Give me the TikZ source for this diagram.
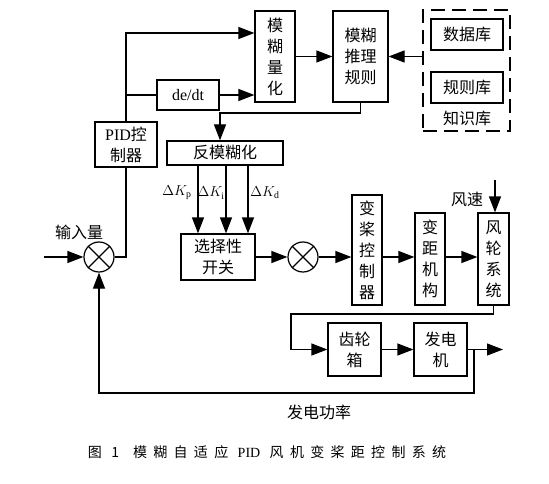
\documentclass[tikz,border=0pt]{standalone}
\usepackage{fontspec}
\setmainfont{Liberation Serif}
\newfontfamily\cjk{Noto Sans CJK SC}
\newfontfamily\capfont[LetterSpace=45]{Noto Sans CJK SC}
\usetikzlibrary{arrows.meta,positioning,calc}
\tikzset{
  >={Triangle[length=16pt,width=12pt]},
  blk/.style={draw,line width=1.2pt,inner sep=0pt,align=center},
  sum/.style={draw,circle,line width=1.2pt,minimum size=30pt,inner sep=0pt},
}

\begin{document}
\begin{tikzpicture}[
  x=1pt,y=-1pt,line width=1.2pt,
  every node/.style={font=\cjk\fontsize{16}{21}\selectfont}
]
\useasboundingbox (0,0) rectangle (549,484);

% fuzzy part
\node[blk,minimum width=40pt,minimum height=91pt] (fq) at (275,56.5) {模\\糊\\量\\化};
\node[blk,minimum width=55pt,minimum height=91pt] (fr) at (360.5,56.5) {模糊\\推理\\规则};
\node[draw,line width=2pt,dash pattern=on 14pt off 7pt,minimum width=87pt,minimum height=121pt] (kb) at (466.5,70.5) {};
\node[blk,minimum width=72pt,minimum height=31pt] (db) at (467,34.5) {数据库};
\node[blk,minimum width=72pt,minimum height=31pt] (rb) at (467,87.5) {规则库};
\node (kbl) at (467,118) {知识库};
\node[blk,minimum width=62pt,minimum height=30pt,font=\fontsize{16}{18}\selectfont] (dedt) at (188,95) {de/dt};
\node[blk,minimum width=62pt,minimum height=45pt] (pid) at (126,144.5) {{\rmfamily PID}控\\制器};
\node[blk,minimum width=116pt,minimum height=24pt] (dfz) at (225,153) {反模糊化};
\node[blk,minimum width=74pt,minimum height=46pt] (sw) at (218,257) {选择性\\开关};

% plant
\node[sum] (s1) at (99,257) {};
\node[sum] (s2) at (303,257) {};
\node[blk,minimum width=30pt,minimum height=110pt] (pc) at (367,250) {变\\桨\\控\\制\\器};
\node[blk,minimum width=30pt,minimum height=92pt] (pm) at (430,259) {变\\距\\机\\构};
\node[blk,minimum width=31pt,minimum height=92pt] (ws) at (493.5,259) {风\\轮\\系\\统};
\node[blk,minimum width=53pt,minimum height=53pt] (gb) at (354.5,349.5) {齿轮\\箱};
\node[blk,minimum width=53pt,minimum height=53pt] (gen) at (440.5,349.5) {发电\\机};

% labels
\node (inl) at (79,232) {输入量};
\node (wsl) at (467,199) {风速};
\node (pwl) at (319,412) {发电功率};
\node[font=\fontsize{14}{16}\selectfont] (kpl) at (177,193) {$\Delta K_{\mathrm{p}}$};
\node[font=\fontsize{14}{16}\selectfont] (kil) at (211,193) {$\Delta K_{\mathrm{i}}$};
\node[font=\fontsize{14}{16}\selectfont] (kdl) at (265,193) {$\Delta K_{\mathrm{d}}$};
\node[font=\capfont\fontsize{14}{16}\selectfont] (cap) at (267,452) {图 1\quad 模糊自适应 {\rmfamily PID} 风机变桨距控制系统};

\coordinate (tp) at (126,33);
\coordinate (dp) at (126,95);
\coordinate (dk) at (220,113);
\coordinate (in) at (44,257);
\coordinate (wv) at (495,180);
\coordinate (bk) at (291,314);
\coordinate (out) at (503,349.5);
\coordinate (fbk) at (474,393);

\draw[->] (pid.north) -- (tp) -- (tp -| fq.west);
\draw (dp) -- (dedt.west);
\draw[->] (dedt.east) -- (dedt.east -| fq.west);
\draw[->] (fq.east) -- (fr.west);
\draw[->] (fr.east -| kb.west) -- (fr.east);
\draw[->] (fr.south) |- (dk) -- (dk |- dfz.north);
\foreach \x/\n in {198/p,226/i,248/d} {
  \coordinate (k\n) at (\x,165);
  \draw[->] (k\n) -- (k\n |- sw.north);
}

\draw[->] (in) -- (s1.west);
\draw (s1.east) -| (pid.south);
\draw (s1.north west) -- (s1.south east) (s1.north east) -- (s1.south west);
\draw (s2.north west) -- (s2.south east) (s2.north east) -- (s2.south west);
\draw[->] (sw.east) -- (s2.west);
\draw[->] (s2.east) -- (s2.east -| pc.west);
\draw[->] (pc.east |- s2) -- (pm.west |- s2);
\draw[->] (pm.east |- s2) -- (ws.west |- s2);
\draw[->] (wv) -- (wv |- ws.north);
\draw[->] (ws.south) |- (bk) |- (gb.west);
\draw[->] (gb.east) -- (gen.west);
\draw[->] (gen.east) -- (out);
\draw[->] (gen.east -| fbk) -- (fbk) -| (s1.south);

\end{tikzpicture}
\end{document}
